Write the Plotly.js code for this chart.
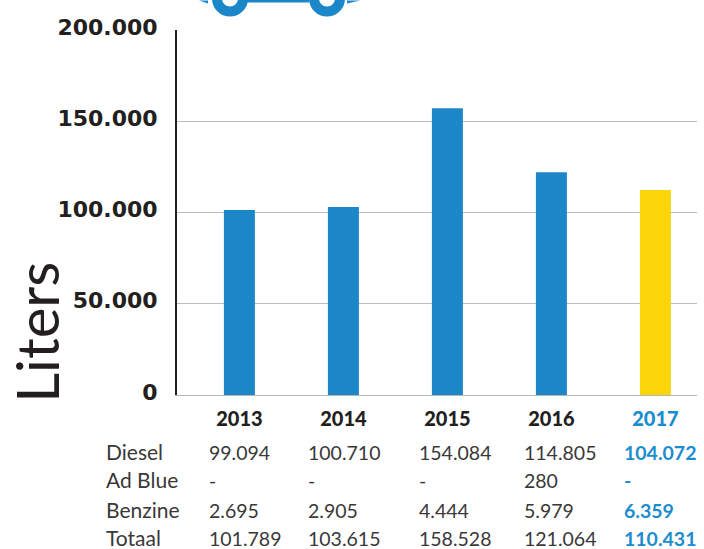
<!DOCTYPE html>
<html>
<head>
<meta charset="utf-8">
<script src="https://cdn.plot.ly/plotly-3.0.1.min.js"></script>
<style>html,body{margin:0;padding:0;background:#fff}</style>
</head>
<body>
<div id="chart" style="width:704px;height:549px"></div>
<script>
const years = ['2013','2014','2015','2016','2017'];
const barValues = [101400,103000,157100,122100,112300];
const barColors = ['#1b87c9','#1b87c9','#1b87c9','#1b87c9','#fcd50a'];
const yTicks = [0,50000,100000,150000,200000];
const yTickLabels = ['0','50.000','100.000','150.000','200.000'];
const rowNames = ['Diesel','Ad Blue','Benzine','Totaal'];
const diesel = ['99.094','100.710','154.084','114.805','104.072'];
const adBlue = ['-','-','-','280','-'];
const benzine = ['2.695','2.905','4.444','5.979','6.359'];
const totaal = ['101.789','103.615','158.528','121.064','110.431'];
const rows = [diesel, adBlue, benzine, totaal];
const dark = '#231f20', grey = '#3a3839', blue = '#1b8ccf', carBlue = '#1b87c9';
const W = 704, H = 549, L = 177, R = 697, T = 29.5, B = 395.5;
const px = x => (x - L) / (R - L);
const py = y => (B - y) / (B - T);
const rowY = [452, 480, 510, 538];
const colX = [207, 306, 417, 522, 622];
const annotations = [{xref:'paper', yref:'paper', x:px(37), y:py(333), xanchor:'center', yanchor:'middle', showarrow:false,
  textangle:-90, text:'Liters', font:{family:'Lato', size:58, color:dark}}];
rowNames.forEach((n, r) => {
  annotations.push({xref:'paper', yref:'paper', x:px(104), y:py(rowY[r]), xanchor:'left', yanchor:'middle', showarrow:false,
    text:n, font:{family:'Lato', size:21, color:grey}});
  rows[r].forEach((v, c) => {
    const last = c === 4;
    annotations.push({xref:'paper', yref:'paper', x:px(colX[c]), y:py(rowY[r]+1), xanchor:'left', yanchor:'middle', showarrow:false,
      text:last ? '<b>'+v+'</b>' : v, font:{family:'Lato', size:19.5, color:last ? blue : grey}});
  });
});
const wheel = cx => ({type:'circle', xref:'paper', yref:'paper', x0:px(cx-13), x1:px(cx+13), y0:py(11), y1:py(-15),
  line:{color:carBlue, width:10}, fillcolor:'rgba(0,0,0,0)'});
const shapes = [
  wheel(230), wheel(327),
  {type:'rect', xref:'paper', yref:'paper', x0:px(247), x1:px(309), y0:py(2), y1:py(-2), line:{width:0}, fillcolor:carBlue},
  {type:'path', xref:'paper', yref:'paper', line:{width:0}, fillcolor:carBlue,
    path:`M ${px(199)} ${py(0)} L ${px(208)} ${py(3)} L ${px(208)} ${py(0)} Z`},
  {type:'path', xref:'paper', yref:'paper', line:{width:0}, fillcolor:carBlue,
    path:`M ${px(360)} ${py(0)} L ${px(347)} ${py(3)} L ${px(347)} ${py(0)} Z`}
];
const data = [{type:'bar', x:[0,1,2,3,4], y:barValues, marker:{color:barColors}, width:0.298, hoverinfo:'y'}];
const layout = {
  width:W, height:H, showlegend:false, paper_bgcolor:'#fff', plot_bgcolor:'#fff',
  margin:{l:L, r:W-R, t:T, b:H-B},
  xaxis:{range:[-0.6,4.4], tickmode:'array', tickvals:[0,1,2,3,4],
    ticktext:years.map((y,i)=> i===4 ? `<span style="color:${blue}">${y}</span>` : y),
    showgrid:false, zeroline:false, showline:true, linecolor:'#b5b5b5', linewidth:1, ticks:'', ticklen:0, ticklabelstandoff:6,
    tickfont:{family:'Lato', size:20, color:dark, weight:900}},
  yaxis:{range:[0,200000], tickmode:'array', tickvals:yTicks, ticktext:yTickLabels,
    showgrid:true, gridcolor:'#bdbdbd', gridwidth:1, zeroline:false, showline:true, linecolor:dark, linewidth:2,
    ticks:'', ticklen:0, ticklabelstandoff:13, tickfont:{family:'DejaVu Sans', size:22, color:dark, weight:700}},
  annotations, shapes
};
Plotly.newPlot('chart', data, layout, {displayModeBar:false, staticPlot:true}).then(gd => {
  gd.querySelectorAll('.ytick text').forEach(t => {
    t.setAttribute('transform', (t.getAttribute('transform') || '') + ' translate(0,-3)');
  });
});
</script>
</body>
</html>
